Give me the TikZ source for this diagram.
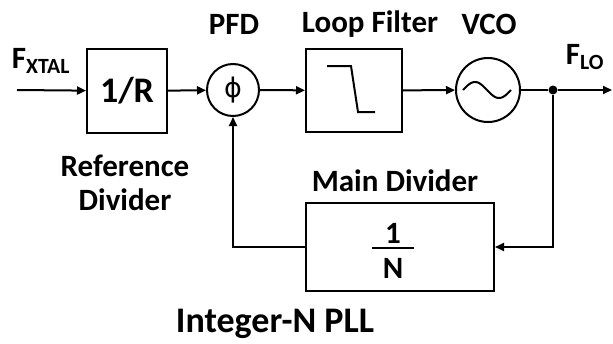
\documentclass[tikz,border=0pt]{standalone}
\usepackage{fontspec}
\setmainfont{Carlito}
\newfontfamily\symfont{DejaVu Sans}
\usetikzlibrary{arrows.meta,positioning,calc}

\tikzset{
  blk/.style={draw, line width=2pt, inner sep=0pt},
  circ/.style={draw, circle, line width=2pt, inner sep=0pt},
  lbl/.style={font=\fontsize{31}{34}\selectfont\bfseries, inner sep=0pt},
  sig/.style={line width=2pt, -{Triangle[length=9pt,width=8pt]}},
  wire/.style={line width=2pt}
}

\begin{document}
\begin{tikzpicture}[x=1pt,y=-1pt]
  \useasboundingbox (0,0) rectangle (613,343);

  % Blocks
  \node[blk, minimum width=80, minimum height=84, font=\fontsize{36}{38}\selectfont\bfseries] (rdiv) at (127,91) {1/R};
  \node[circ, minimum size=52, font=\fontsize{27}{29}\selectfont\symfont] (pfd) at (233,90) {ϕ};
  \node[blk, minimum width=96, minimum height=83] (lf) at (354,90.5) {};
  \node[circ, minimum size=64] (vco) at (488,90) {};
  \node[circle, fill, minimum size=9, inner sep=0pt] (split) at (553,90) {};
  \node[blk, minimum width=188, minimum height=88] (mdiv) at (400,247) {};
  \coordinate (in) at (17,90);
  \coordinate (out) at (612,90);

  % Symbols
  \draw[wire] (327,66) -- (351,66) -- (358,112) -- (375,112);
  \draw[wire] plot[domain=0:360, samples=50] ({463+\x/7.5},{90-8*sin(\x)});
  \node[lbl] (num) at (393,233) {1};
  \node[lbl] (den) at (393,268) {N};
  \draw[wire, line width=1.6pt] (372,248) -- (414,248);

  % Signal path
  \draw[sig] (in) -- (rdiv);
  \draw[sig] (rdiv) -- (pfd);
  \draw[sig] (pfd) -- (lf);
  \draw[sig] (lf) -- (vco);
  \draw[wire] (vco) -- (split);
  \draw[sig] (split) -- (out);
  \draw[sig] (split) |- (mdiv.east);
  \draw[sig] (mdiv.west) -| (pfd.south);

  % Labels
  \node[lbl] (xtal) at (41,61) {F\textsubscript{XTAL}};
  \node[lbl] (pfdlbl) at (234,24) {PFD};
  \node[lbl] (lflbl) at (370,24) {Loop Filter};
  \node[lbl] (vcolbl) at (489,24) {VCO};
  \node[lbl] (lo) at (585,57) {F\textsubscript{LO}};
  \node[lbl, align=center] (reflbl) at (125,183) {Reference\\Divider};
  \node[lbl] (mdlbl) at (395,181) {Main Divider};
  \node[lbl, font=\fontsize{36}{38}\selectfont\bfseries] (title) at (275,324) {Integer-N PLL};
\end{tikzpicture}
\end{document}
